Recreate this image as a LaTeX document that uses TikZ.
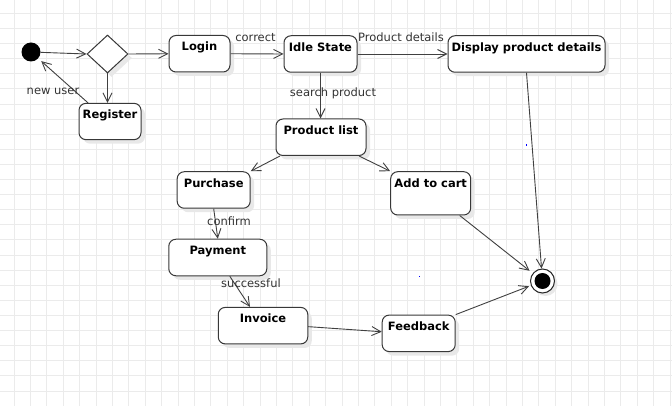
\documentclass[tikz,border=0pt]{standalone}
\usepackage{fontspec}
\setmainfont{DejaVu Sans}
\usetikzlibrary{shapes.geometric,shadows,arrows.meta}
\tikzset{
  state/.style={draw=black!78, rounded corners=7pt, line width=1pt, fill=white,
    inner sep=0pt, font=\fontsize{11.5}{13}\selectfont\bfseries, text height=15.5pt,
    drop shadow={shadow xshift=4pt, shadow yshift=-4pt, fill=black!9, opacity=1}},
  lbl/.style={font=\fontsize{11.5}{13}\selectfont, text=black!80, inner sep=0pt},
  flow/.style={draw=black!75, line width=0.9pt, -{Straight Barb[length=9pt,width=9pt]}},
  gridline/.style={draw=black!8, line width=0.8pt}
}
\begin{document}
\begin{tikzpicture}[x=1pt,y=-1pt]
\useasboundingbox (0,0) rectangle (672,406);
\fill[white] (0,0) rectangle (672,406);
% grid
\foreach \k in {0,...,40} {\draw[gridline] ({14+16.4*\k},0) -- ({14+16.4*\k},406);}
\foreach \k in {0,...,26} {\draw[gridline] (0,{13.4+15.1*\k}) -- (672,{13.4+15.1*\k});}
% stray blue dots
\fill[blue] (525.5,144.5) rectangle (527,146);
\fill[blue] (418.5,275.5) rectangle (420,277);
% nodes
\node[circle, fill=black, minimum size=19pt, inner sep=0pt] (init) at (31,52) {};
\node[diamond, draw=black!78, line width=1pt, fill=white, minimum width=41pt, minimum height=38pt, inner sep=0pt,
  drop shadow={shadow xshift=4pt, shadow yshift=-4pt, fill=black!9, opacity=1}] (dia) at (107.5,54) {};
\node[state, minimum width=61pt, text depth=21pt] (login) at (199.5,53.75) {Login};
\node[state, minimum width=62pt, text depth=20.8pt] (register) at (110,121.5) {Register};
\node[state, minimum width=73pt, text depth=21pt] (idle) at (320.5,54) {Idle State};
\node[state, minimum width=157pt, text depth=21pt] (display) at (526.5,54) {Display product details};
\node[state, minimum width=90pt, text depth=21pt] (plist) at (321,137.25) {Product list};
\node[state, minimum width=73pt, text depth=21pt] (purchase) at (213.7,190) {Purchase};
\node[state, minimum width=80pt, text depth=27.8pt] (addcart) at (430.7,193.35) {Add to cart};
\node[state, minimum width=98pt, text depth=21pt] (payment) at (217.8,257.5) {Payment};
\node[state, minimum width=89.5pt, text depth=21pt] (invoice) at (263,325.65) {Invoice};
\node[state, minimum width=73pt, text depth=21pt] (feedback) at (418.7,333.35) {Feedback};
\node[circle, draw=black!85, line width=1pt, fill=white, minimum size=24pt, inner sep=0pt,
  drop shadow={shadow xshift=3pt, shadow yshift=-3pt, fill=black!9, opacity=1}] (final) at (542.5,281) {};
\fill[black] (final.center) circle (8pt);
% edges
\draw[flow] (init) -- (dia.west);
\draw[flow] (dia.east) -- (login.west);
\draw[flow] (dia.south) -- (dia.south |- register.north);
\draw[flow, shorten >=4pt] ([xshift=-22pt]register.north) -- (init);
\draw[flow] (login.east) -- (idle.west);
\draw[flow] (idle.east) -- (display.west);
\draw[flow] (idle.south) -- (idle.south |- plist.north);
\draw[flow] ([xshift=-41pt]plist.south) -- (purchase.north east);
\draw[flow] ([xshift=38pt]plist.south) -- (addcart.north west);
\draw[flow] (purchase.south) -- (payment.north);
\draw[flow] ([xshift=12pt]payment.south) -- ([xshift=-13pt]invoice.north);
\draw[flow] ([yshift=-1pt]invoice.east) -- ([yshift=1.6pt]feedback.west);
\draw[flow, shorten >=4pt] ([xshift=29pt]addcart.south) -- (final);
\draw[flow] (display.south) -- (final);
\draw[flow, shorten >=2pt] (feedback.north east) -- (final);
% labels
\node[lbl] (lnew) at (53,91) {new user};
\node[lbl] (lcorrect) at (255.5,37.5) {correct};
\node[lbl] (ldetails) at (401,37.5) {Product details};
\node[lbl] (lsearch) at (333,93) {search product};
\node[lbl] (lconfirm) at (229,221) {confirm};
\node[lbl] (lsucc) at (251,283) {successful};
\end{tikzpicture}
\end{document}
